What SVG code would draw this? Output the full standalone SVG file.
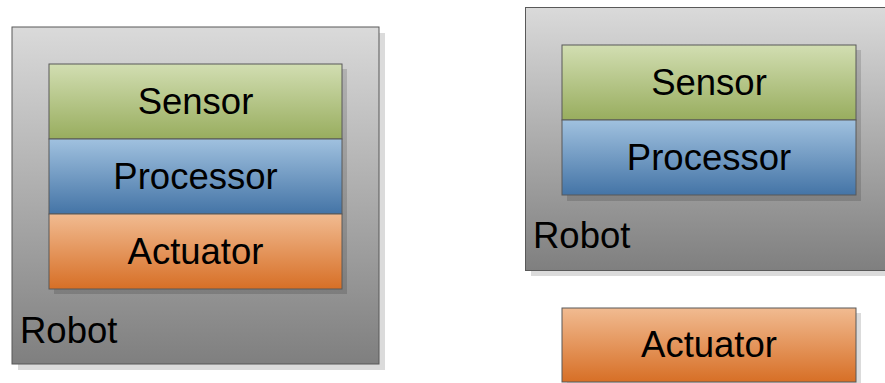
<svg xmlns="http://www.w3.org/2000/svg" width="885" height="383" viewBox="0 0 885 383">
<defs>
<linearGradient id="gRobot" x1="0" y1="0" x2="0" y2="1"><stop offset="0" stop-color="#dadada"/><stop offset="1" stop-color="#7f7f7f"/></linearGradient>
<linearGradient id="gSensor" x1="0" y1="0" x2="0" y2="1"><stop offset="0" stop-color="#d2deb2"/><stop offset="1" stop-color="#98ad5e"/></linearGradient>
<linearGradient id="gProc" x1="0" y1="0" x2="0" y2="1"><stop offset="0" stop-color="#a0c1df"/><stop offset="1" stop-color="#4474a6"/></linearGradient>
<linearGradient id="gAct" x1="0" y1="0" x2="0" y2="1"><stop offset="0" stop-color="#f1bb91"/><stop offset="1" stop-color="#d76f26"/></linearGradient>
</defs>
<style>
.box{stroke:#595959;stroke-width:1}
.shadow{fill:#000;fill-opacity:0.14}
text{font-family:"Liberation Sans",Arial,sans-serif;font-size:36.5px;fill:#000}
.c{text-anchor:middle}
</style>
<rect width="885" height="383" fill="#fff"/>
<g id="robot-left">
<rect class="shadow" x="18" y="33" width="367" height="337"/>
<rect class="box" x="12" y="27" width="367" height="337" fill="url(#gRobot)"/>
<text x="20" y="343">Robot</text>
</g>
<g id="stack-left-shadow"><rect class="shadow" x="54" y="69" width="293" height="225"/></g>
<g id="sensor-left">
<rect class="box" x="49" y="64" width="293" height="75" fill="url(#gSensor)"/>
<text class="c" x="195.5" y="114">Sensor</text>
</g>
<g id="processor-left">
<rect class="box" x="49" y="139" width="293" height="75" fill="url(#gProc)"/>
<text class="c" x="195.5" y="189">Processor</text>
</g>
<g id="actuator-left">
<rect class="box" x="49" y="214" width="293" height="75" fill="url(#gAct)"/>
<text class="c" x="195.5" y="264">Actuator</text>
</g>
<g id="robot-right">
<rect class="shadow" x="531" y="13" width="360" height="263"/>
<rect class="box" x="525.5" y="7.5" width="360" height="263" fill="url(#gRobot)"/>
<text x="533" y="248">Robot</text>
</g>
<g id="stack-right-shadow"><rect class="shadow" x="567" y="50" width="294" height="151"/></g>
<g id="sensor-right">
<rect class="box" x="562" y="45" width="294" height="75" fill="url(#gSensor)"/>
<text class="c" x="709" y="95">Sensor</text>
</g>
<g id="processor-right">
<rect class="box" x="562" y="120" width="294" height="75" fill="url(#gProc)"/>
<text class="c" x="709" y="170">Processor</text>
</g>
<g id="actuator-right">
<rect class="shadow" x="567" y="313" width="294" height="75"/>
<rect class="box" x="562" y="308" width="294" height="74" fill="url(#gAct)"/>
<text class="c" x="709" y="357">Actuator</text>
</g>
<g id="connectors"/>
</svg>
